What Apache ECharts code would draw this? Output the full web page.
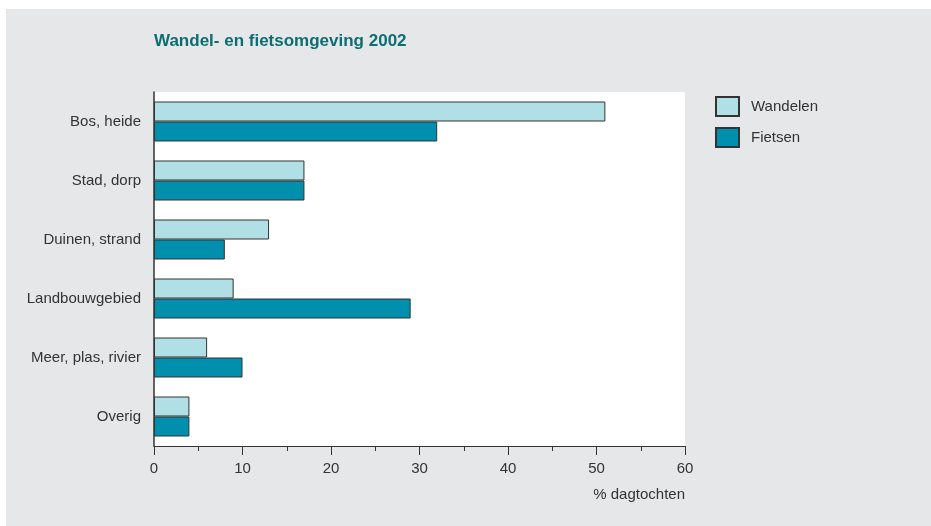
<!DOCTYPE html>
<html><head><meta charset="utf-8">
<script src="https://cdn.jsdelivr.net/npm/echarts@6/dist/echarts.min.js"></script>
<style>
html,body{margin:0;padding:0;background:#fff;width:931px;height:526px;overflow:hidden}
#c{position:absolute;left:6px;top:9px;width:925px;height:517px;background:#e6e7e9}
</style></head><body><div id="c"></div>
<script>
const categories = ["Bos, heide","Stad, dorp","Duinen, strand","Landbouwgebied","Meer, plas, rivier","Overig"];
const wandelen = [51,17,13,9,6,4];
const fietsen = [32,17,8,29,10,4];
const seriesNames = ["Wandelen","Fietsen"];
const xTicks = [0,10,20,30,40,50,60];
const titleText = "Wandel- en fietsomgeving 2002";
const axisName = "% dagtochten";

const font = "'Liberation Sans Narrow','Arial Narrow','Liberation Sans',Arial,sans-serif";
const chart = echarts.init(document.getElementById('c'), null, {renderer:'canvas'});
chart.setOption({
  backgroundColor: 'transparent',
  animation: false,
  title: {text: titleText, left: 143, top: 19,
    textStyle:{fontFamily: font, fontSize: 17, fontWeight:'bold', color:'#0b6e72'}},
  legend: {data: seriesNames, orient:'vertical', left: 704, top: 82, itemWidth: 23, itemHeight: 19,
    itemGap: 10, icon:'rect',
    textStyle:{fontFamily: font, fontSize: 15, color:'#333', padding:[0,0,0,7]}},
  grid: {left: 148, top: 83, width: 531, height: 354, show: true, backgroundColor:'#fff', borderWidth:0},
  xAxis: {type:'value', min: xTicks[0], max: xTicks[xTicks.length-1], interval: 10,
    axisLine:{show:true, lineStyle:{color:'#333', width:1.2}},
    axisTick:{show:true, length:9, lineStyle:{color:'#333'}},
    minorTick:{show:true, splitNumber:2, length:5, lineStyle:{color:'#333'}},
    splitLine:{show:false},
    axisLabel:{fontFamily: font, fontSize: 15, color:'#333', margin: 15},
    name: axisName, nameLocation:'end', nameGap: 0,
    nameTextStyle:{fontFamily: font, fontSize: 15, color:'#333', align:'right', verticalAlign:'top', padding:[41,0,0,0]}},
  yAxis: {type:'category', data: categories, inverse: true,
    axisLine:{show:true, lineStyle:{color:'#333', width:1.5}},
    axisTick:{show:false},
    axisLabel:{fontFamily: font, fontSize: 15, color:'#333', margin: 13}},
  series: [
    {name: seriesNames[0], type:'bar', data: wandelen, barWidth: 20, barGap: '0%',
     itemStyle:{color:'#b0dfe6', borderColor:'#333', borderWidth:1}},
    {name: seriesNames[1], type:'bar', data: fietsen, barWidth: 20, barGap: '0%',
     itemStyle:{color:'#0090ae', borderColor:'#333', borderWidth:1}}
  ]
});
</script></body></html>
